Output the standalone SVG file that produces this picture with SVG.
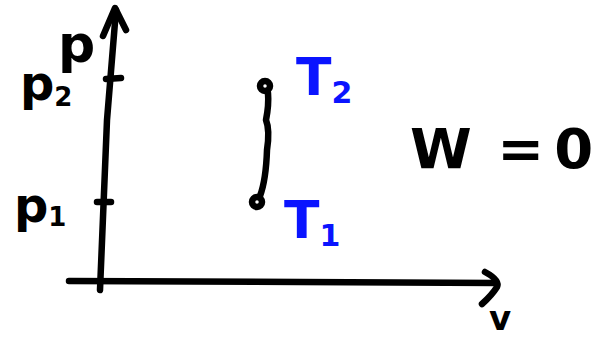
<svg xmlns="http://www.w3.org/2000/svg" width="594" height="343" viewBox="0 0 594 343">
<style>
.ink{fill:none;stroke:#000;stroke-width:6.5;stroke-linecap:round;stroke-linejoin:round}
.lbl{font-family:"DejaVu Sans","Liberation Sans",sans-serif;font-weight:bold}
.blue{fill:#0a14ff}
.blk{fill:#000}
</style>
<rect width="594" height="343" fill="#fff"/>
<g id="connectors">
  <path class="ink" d="M100,290 L107,120 L116,10"/>
  <path class="ink" d="M103,36 L115,8 L126,30"/>
  <path class="ink" d="M106,79 L121,78"/>
  <path class="ink" d="M97,202 L111,202"/>
  <path class="ink" d="M69,281 L300,282 L496,283"/>
  <path class="ink" d="M485,272 Q500,280 497,287 Q492,295 482,304"/>
  <path class="ink" d="M268,93 Q269,105 266,120 Q270,130 267,150 Q266,180 260,196"/>
</g>
<g id="state2">
  <circle cx="265" cy="86" r="5" class="ink" stroke-width="4.5"/>
</g>
<g id="state1">
  <circle cx="257" cy="202" r="5" class="ink" stroke-width="4.5"/>
</g>
<g id="labels">
  <text class="lbl blk" x="58" y="62" font-size="52">p</text>
  <text class="lbl blk" x="20" y="100" font-size="48">p<tspan font-size="26" dy="6">2</tspan></text>
  <text class="lbl blk" x="14" y="222" font-size="48">p<tspan font-size="26" dy="4">1</tspan></text>
  <text class="lbl blue" x="296" y="95" font-size="52">T<tspan font-size="30" dy="8">2</tspan></text>
  <text class="lbl blue" x="284" y="238" font-size="52">T<tspan font-size="30" dy="8">1</tspan></text>
  <text class="lbl blk" x="489" y="330" font-size="34">v</text>
  <text class="lbl blk" x="410" y="168" font-size="56">W <tspan dx="6">=</tspan><tspan dx="10">0</tspan></text>
</g>
</svg>
